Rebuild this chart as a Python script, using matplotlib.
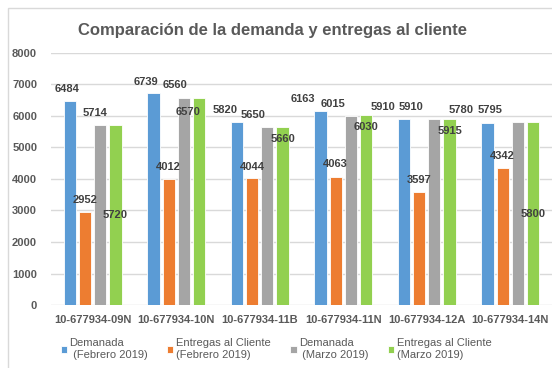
import numpy as np
import matplotlib
matplotlib.use("Agg")
import matplotlib.pyplot as plt
from matplotlib.patches import Rectangle

# Chart data
products = ["10-677934-09N", "10-677934-10N", "10-677934-11B",
            "10-677934-11N", "10-677934-12A", "10-677934-14N"]
demanda_feb = [6484, 6739, 5820, 6163, 5910, 5780]
entregas_feb = [2952, 4012, 4044, 4063, 3597, 4342]
demanda_mar = [5714, 6560, 5650, 6015, 5910, 5795]
entregas_mar = [5720, 6570, 5660, 6030, 5915, 5800]
series_names = ["Demanada\n (Febrero 2019)", "Entregas al Cliente\n(Febrero 2019)",
                "Demanada\n (Marzo 2019)", "Entregas al Cliente\n(Marzo 2019)"]
y_ticks = [0, 1000, 2000, 3000, 4000, 5000, 6000, 7000, 8000]

# Value label placement (pixel offsets from the top of each bar)
label_dx = [
    [-3, -8, -12, -18, -21, -26],
    [0, 0, 0, 0, 0, 0],
    [-5, -9, -14, -18, -23, -28],
    [0, -11, 0, 0, 0, 0],
]
label_dy = [
    [12, 11, 12, 12, 12, 13],
    [12, 12, 11, 13, 12, 12],
    [12, 13, 12, 12, 12, 12],
    [-90, -14, -12, -12, -12, -92],
]

colors = ["#5B9BD5", "#ED7D31", "#A5A5A5", "#92D050"]
text_color = "#595959"
label_color = "#404040"
font = "Liberation Sans"

fig = plt.figure(figsize=(5.52, 3.68), dpi=100)
fig.patches.append(Rectangle((8 / 552, -0.05), 1.0, 1 - 8 / 368 + 0.05,
                             transform=fig.transFigure, fill=False,
                             edgecolor="#D9D9D9", linewidth=1))
ax = fig.add_axes([51 / 552, 1 - 305 / 368, 501 / 552, 252 / 368])

x = np.arange(len(products))
bar_w = 0.145
step = 0.182
all_series = [demanda_feb, entregas_feb, demanda_mar, entregas_mar]

for i, (vals, color, name) in enumerate(zip(all_series, colors, series_names)):
    pos = x + (i - 1.5) * step
    ax.bar(pos, vals, width=bar_w, color=color, edgecolor="white",
           linewidth=0.6, label=name, zorder=3)
    for j, v in enumerate(vals):
        ax.annotate(str(v), (pos[j], v),
                    xytext=(label_dx[i][j], label_dy[i][j]),
                    textcoords="offset pixels", ha="center", va="center",
                    fontsize=8, fontweight="bold", color=label_color,
                    family=font, zorder=4)

ax.set_xlim(-0.5, len(products) - 0.5)
ax.set_ylim(0, 8000)
ax.set_yticks(y_ticks)
ax.set_xticks(x)
ax.set_xticklabels(products)
ax.grid(axis="y", color="#D9D9D9", linewidth=1, zorder=0)
for s in ax.spines.values():
    s.set_visible(False)
ax.tick_params(length=0)
ax.tick_params(axis="y", pad=10)
ax.tick_params(axis="x", pad=7)
for lbl in ax.get_xticklabels() + ax.get_yticklabels():
    lbl.set_family(font)
    lbl.set_fontweight("bold")
    lbl.set_color(text_color)
    lbl.set_fontsize(8)

fig.text(272 / 552, 1 - 30 / 368, "Comparación de la demanda y entregas al cliente",
         ha="center", va="center", fontsize=12, fontweight="bold",
         color=text_color, family=font)

handles, labels = ax.get_legend_handles_labels()
leg = fig.legend(handles, labels, loc="center", bbox_to_anchor=(276 / 552, 1 - 349 / 368),
                 ncol=4, frameon=False, handlelength=0.6, handleheight=0.6,
                 handletextpad=0.2, columnspacing=1.75, labelspacing=0.2,
                 prop={"family": font, "size": 8})
for t in leg.get_texts():
    t.set_color(text_color)

fig.savefig("out.png", dpi=100)
